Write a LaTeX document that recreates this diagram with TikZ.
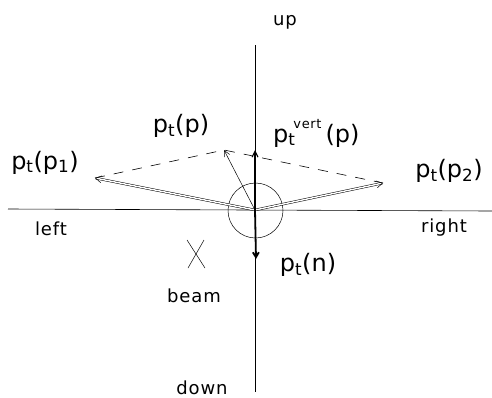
\documentclass[tikz,border=0pt]{standalone}
\usepackage{fontspec}
\setmainfont{DejaVu Sans}
\usetikzlibrary{arrows.meta}
\tikzset{
  lbl/.style={inner sep=0pt, anchor=base, font=\fontsize{18}{18}\selectfont\addfontfeature{LetterSpace=5}},
  big/.style={inner sep=0pt, font=\fontsize{24}{24}\selectfont},
  axis/.style={line width=0.6pt},
  dbl/.style={double, double distance=1.4pt, line width=0.5pt, -{Straight Barb[length=6pt,width=7pt]}},
  thinarr/.style={line width=0.5pt, -{Straight Barb[length=6pt,width=6pt]}},
  dsh/.style={line width=0.6pt, dash pattern=on 10pt off 9pt}
}
\begin{document}
\begin{tikzpicture}[x=1pt,y=-1pt]
\useasboundingbox (0,0) rectangle (492,397);
% axes
\coordinate (O) at (255,210);
\coordinate (L) at (8,209);
\coordinate (R) at (492,211);
\coordinate (U) at (255,45);
\coordinate (D) at (255,392);
\draw[axis] (L) -- (R);
\draw[axis] (U) -- (D);
\node[lbl] (up) at (285,25) {up};
\node[lbl] (down) at (202,394) {down};
\node[lbl] (left) at (51,235) {left};
\node[lbl] (right) at (444,232) {right};
% tips
\coordinate (P1) at (95,178);
\coordinate (P2) at (383,183);
\coordinate (P) at (224,150);
\coordinate (PV) at (255,150);
\coordinate (N) at (256,259);
% circle
\node[draw, circle, minimum size=55pt, inner sep=0pt, line width=0.5pt] (circ) at (255.5,210.5) {};
% dashed
\draw[dsh] (P1) -- (P) -- (P2);
% arrows
\draw[dbl] (O) -- (P1);
\draw[dbl] (O) -- (P2);
\draw[thinarr] (O) -- (P);
\draw[line width=1.1pt, -{Straight Barb[length=6pt,width=6pt]}] (O) -- (PV);
\draw[line width=1.8pt, -{Straight Barb[length=5pt,width=6pt]}] (O) -- (N);
% beam X
\coordinate (X1) at (187,240);
\coordinate (X2) at (205,268);
\coordinate (X3) at (204,240);
\coordinate (X4) at (188,268);
\draw[line width=0.5pt] (X1) -- (X2);
\draw[line width=0.5pt] (X3) -- (X4);
\node[lbl] (beam) at (194,302) {beam};
% labels
\node[big] (lp1) at (45,162.5) {p\textsubscript{t}(p\textsubscript{1})};
\node[big] (lp) at (181,126) {p\textsubscript{t}(p)};
\node[big, anchor=base west] (lpv) at (273,142) {p\rlap{\textsubscript{t}}\kern5pt\raisebox{14pt}{\fontsize{13}{13}\selectfont\addfontfeature{LetterSpace=5}vert}\kern4pt(p)};
\node[big] (lp2) at (449,171) {p\textsubscript{t}(p\textsubscript{2})};
\node[big] (ln) at (308,265) {p\textsubscript{t}(n)};
\end{tikzpicture}
\end{document}
